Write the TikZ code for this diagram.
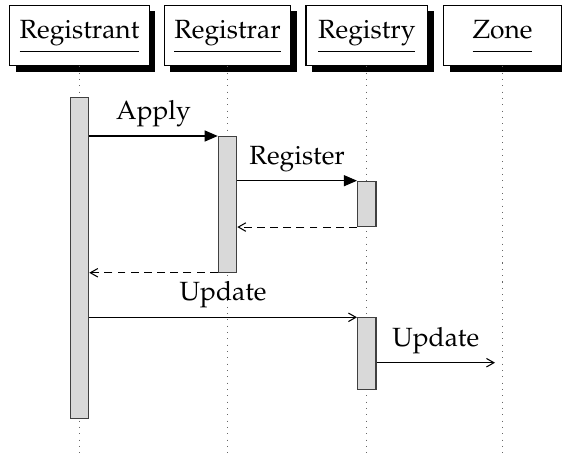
\documentclass[tikz,border=0pt]{standalone}
\usepackage[T1]{fontenc}
\usepackage{mathpazo}
\usetikzlibrary{shadows,arrows.meta}
\begin{document}
\begin{tikzpicture}[
  font=\fontsize{15}{17}\selectfont,
  obj/.style={draw,line width=0.7pt,fill=white,minimum height=1.21cm,inner xsep=0.2cm,
    drop shadow={shadow xshift=0.12cm,shadow yshift=-0.12cm,fill=black,opacity=1}},
  life/.style={black!60,line width=0.6pt,dash pattern=on 0.6pt off 3pt},
  bar/.style={draw=black!75,fill=black!15,line width=0.6pt,minimum width=0.37cm,inner sep=0pt,anchor=north},
  call/.style={line width=0.6pt,-{Triangle[length=0.26cm,width=0.22cm]}},
  msg/.style={line width=0.6pt,-{Straight Barb[length=0.15cm,width=0.17cm]}},
  ret/.style={msg,dash pattern=on 4.5pt off 3pt},
  lbl/.style={above=0.05cm}
]
\useasboundingbox (0,0) rectangle (11.24,9.06);
\coordinate (bottom) at (0,0);
\node[obj,minimum width=2.77cm] (rt) at (1.59,8.35) {\underline{\strut Registrant}};
\node[obj,minimum width=2.49cm] (rar) at (4.55,8.35) {\underline{\strut Registrar}};
\node[obj,minimum width=2.43cm] (ry) at (7.335,8.35) {\underline{\strut Registry}};
\node[obj,minimum width=2.35cm] (zn) at (10.05,8.35) {\underline{\strut Zone}};
\foreach \o in {rt,rar,ry,zn}
  \draw[life] (\o.south) -- (\o.south |- bottom);
\node[bar,minimum height=6.42cm] (rtbar) at (1.59,7.126) {};
\node[bar,minimum height=2.714cm] (rarbar) at (4.55,6.34) {};
\node[bar,minimum height=0.906cm] (rybara) at (7.335,5.446) {};
\node[bar,minimum height=1.44cm] (rybarb) at (7.335,2.714) {};
\draw[call] (rarbar.north west -| rtbar.east) -- node[lbl] (apply) {Apply} (rarbar.north west);
\draw[call] (rybara.north west -| rarbar.east) -- node[lbl] (register) {Register} (rybara.north west);
\draw[ret] (rybara.south west) -- (rybara.south west -| rarbar.east);
\draw[ret] (rarbar.south west) -- (rarbar.south west -| rtbar.east);
\draw[msg] (rybarb.north west -| rtbar.east) -- node[lbl] (upda) {Update} (rybarb.north west);
\coordinate (updend) at (9.9,1.806);
\draw[msg] (updend -| rybarb.east) -- node[lbl] (updb) {Update} (updend);
\end{tikzpicture}
\end{document}
